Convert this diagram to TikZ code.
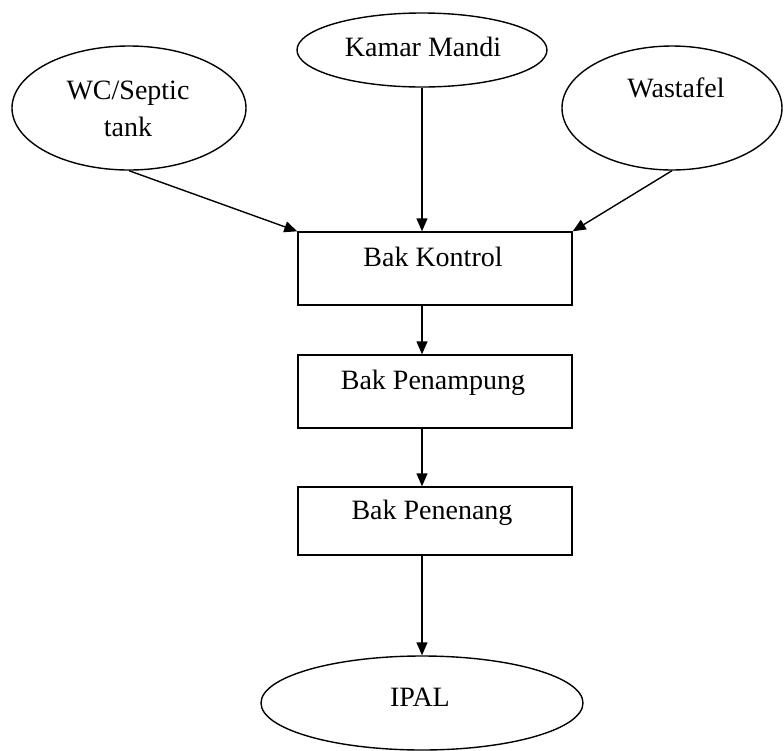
\documentclass[tikz,border=0pt]{standalone}
\usepackage{fontspec}
\setmainfont{Liberation Serif}
\usepackage{tikz}
\usetikzlibrary{shapes.geometric,arrows.meta}

\begin{document}
\begin{tikzpicture}[x=0.5pt,y=-0.5pt,line width=0.7pt,
    font=\fontsize{14}{18.5}\selectfont,
    source/.style={draw,ellipse,inner sep=0pt},
    bak/.style={draw,rectangle,inner sep=0pt,minimum width=137pt},
    flow/.style={-{Triangle[length=6.5pt,width=5.5pt]}}]

    \useasboundingbox (0,0) rectangle (784,751);

    % -- Sources on top --
    % WC on the left
    \node[source, minimum width=117pt, minimum height=62pt] (wc) at (129,108) {};
    \node[align=center] (wctext) at (128,108.5) {WC/Septic\\tank};

    % Bathroom in the middle
    \node[source, minimum width=125pt, minimum height=37pt] (kamar) at (422,50) {};
    \node (kamartext) at (423,47) {Kamar Mandi};

    % Sink on the right
    \node[source, minimum width=110pt, minimum height=62pt] (wastafel) at (672,108) {};
    \node (wastafeltext) at (676,88) {Wastafel};

    % -- Tanks in the center --
    \node[bak, minimum height=36.5pt] (kontrol) at (435,268.5) {};
    \node (kontroltext) at (433,257) {Bak Kontrol};

    \node[bak, minimum height=36.5pt] (penampung) at (435,391.5) {};
    \node (penampungtext) at (433,383) {Bak Penampung};

    \node[bak, minimum height=34pt] (penenang) at (435,521) {};
    \node (penenangtext) at (432,513) {Bak Penenang};

    % -- Treatment plant at the bottom --
    \node[source, minimum width=161pt, minimum height=47pt] (ipal) at (422,703) {};
    \node (ipaltext) at (420,697) {IPAL};

    % -- Arrows for the flow --
    \draw[flow] (wc.south) -- (kontrol.north west);
    \draw[flow] (kamar.south) -- (kamar.south |- kontrol.north);
    \draw[flow] (wastafel.south) -- (kontrol.north east);

    \draw[flow] (kontrol.south -| ipal.north) -- (penampung.north -| ipal.north);
    \draw[flow] (penampung.south -| ipal.north) -- (penenang.north -| ipal.north);
    \draw[flow] (penenang.south -| ipal.north) -- (ipal.north);

\end{tikzpicture}
\end{document}
